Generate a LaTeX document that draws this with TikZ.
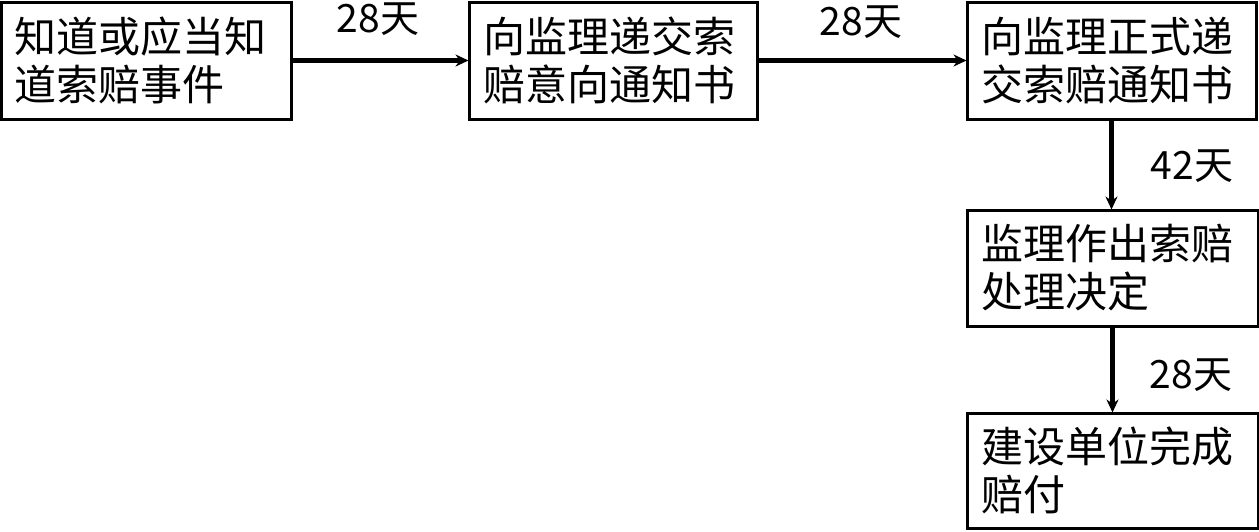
\documentclass[tikz,border=0pt]{standalone}
\usepackage{fontspec}
\setmainfont{Noto Sans CJK SC}
\usetikzlibrary{arrows.meta}
\tikzset{
  box/.style={draw=black, line width=3pt, inner xsep=14pt, inner ysep=0pt, align=left,
    font=\fontsize{42}{48}\selectfont, anchor=center},
  lbl/.style={font=\fontsize{39}{42}\selectfont, inner sep=0pt},
  conn/.style={line width=4.5pt, -{Stealth[length=13pt,width=12pt]}, shorten >=-1pt}
}
\begin{document}
\begin{tikzpicture}[x=1pt,y=-1pt]
\useasboundingbox (0,0) rectangle (1259,531);
\node[box, minimum width=290pt, minimum height=117pt, text width=262pt] (b1) at (146,60.5) {知道或应当知\\道索赔事件};
\node[box, minimum width=288pt, minimum height=117pt, text width=260pt] (b2) at (613,60.5) {向监理递交索\\赔意向通知书};
\node[box, minimum width=289pt, minimum height=117pt, text width=261pt] (b3) at (1111.5,60.5) {向监理正式递\\交索赔通知书};
\node[box, minimum width=291pt, minimum height=116pt, text width=263pt] (b4) at (1112.5,268) {监理作出索赔\\处理决定};
\node[box, minimum width=291pt, minimum height=115pt, text width=263pt] (b5) at (1112.5,470.5) {建设单位完成\\赔付};
\draw[conn] (b1.east) -- (b2.west);
\draw[conn] (b2.east) -- (b3.west);
\draw[conn] (b3.south) -- (b3.south |- b4.north);
\draw[conn] (b4.south) -- (b4.south |- b5.north);
\node[lbl] (l1) at (378,19) {28天};
\node[lbl] (l2) at (861,22) {28天};
\node[lbl] (l3) at (1192,166) {42天};
\node[lbl] (l4) at (1191,375) {28天};
\end{tikzpicture}
\end{document}
